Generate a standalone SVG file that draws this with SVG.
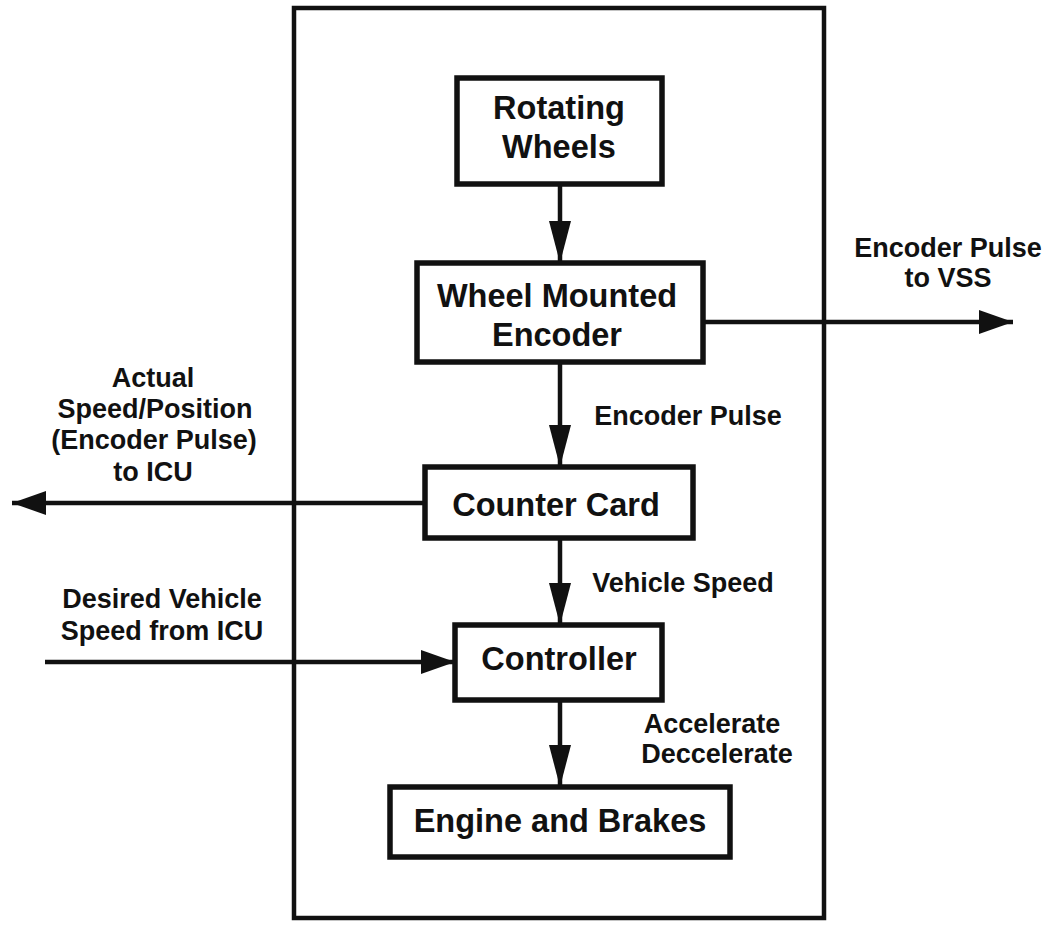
<svg xmlns="http://www.w3.org/2000/svg" width="1049" height="925" viewBox="0 0 1049 925">
  <style>
    .box { fill: #fff; stroke: #111; stroke-width: 5.5; }
    .frame { fill: none; stroke: #111; stroke-width: 4.5; }
    .wire { fill: none; stroke: #111; stroke-width: 4.5; }
    .t { font-family: "Liberation Sans", Arial, Helvetica, sans-serif; font-weight: bold; fill: #111; text-anchor: middle; }
    .tb { font-size: 32.5px; }
    .tl { font-size: 27px; }
  </style>
  <defs>
    <marker id="headV" markerUnits="userSpaceOnUse" markerWidth="42" markerHeight="24" refX="42" refY="11" orient="auto">
      <path d="M0,0 L42,11 L0,22 z" fill="#111"/>
    </marker>
    <marker id="headH" markerUnits="userSpaceOnUse" markerWidth="34" markerHeight="26" refX="34" refY="12" orient="auto">
      <path d="M0,0 L34,12 L0,24 z" fill="#111"/>
    </marker>
  </defs>

  <!-- system boundary -->
  <rect class="frame" x="294" y="8" width="530" height="910"/>

  <!-- connectors -->
  <g id="connectors">
    <line class="wire" x1="560" y1="184" x2="560" y2="263" marker-end="url(#headV)"/>
    <line class="wire" x1="703" y1="322" x2="1013" y2="322" marker-end="url(#headH)"/>
    <line class="wire" x1="560" y1="362" x2="560" y2="467" marker-end="url(#headV)"/>
    <line class="wire" x1="425" y1="503" x2="12" y2="503" marker-end="url(#headH)"/>
    <line class="wire" x1="560" y1="538" x2="560" y2="625" marker-end="url(#headV)"/>
    <line class="wire" x1="45" y1="662" x2="455" y2="662" marker-end="url(#headH)"/>
    <line class="wire" x1="560" y1="700" x2="560" y2="787" marker-end="url(#headV)"/>
  </g>

  <g id="rotating-wheels">
    <rect class="box" x="457" y="78" width="205" height="106"/>
    <text class="t tb" x="559" y="119">Rotating</text>
    <text class="t tb" x="559" y="158">Wheels</text>
  </g>

  <g id="wheel-mounted-encoder">
    <rect class="box" x="417" y="263" width="286" height="99"/>
    <text class="t tb" x="557" y="307">Wheel Mounted</text>
    <text class="t tb" x="557" y="346">Encoder</text>
  </g>

  <g id="counter-card">
    <rect class="box" x="425" y="467" width="268" height="71"/>
    <text class="t tb" x="556" y="516">Counter Card</text>
  </g>

  <g id="controller">
    <rect class="box" x="455" y="625" width="207" height="75"/>
    <text class="t tb" x="559" y="670">Controller</text>
  </g>

  <g id="engine-and-brakes">
    <rect class="box" x="390" y="787" width="340" height="70"/>
    <text class="t tb" x="560" y="832">Engine and Brakes</text>
  </g>

  <!-- signal labels -->
  <g id="labels">
    <text class="t tl" x="948" y="257">Encoder Pulse</text>
    <text class="t tl" x="948" y="287">to VSS</text>

    <text class="t tl" x="688" y="425">Encoder Pulse</text>

    <text class="t tl" x="153" y="387">Actual</text>
    <text class="t tl" x="155" y="418">Speed/Position</text>
    <text class="t tl" x="154" y="449">(Encoder Pulse)</text>
    <text class="t tl" x="153" y="481">to ICU</text>

    <text class="t tl" x="683" y="592">Vehicle Speed</text>

    <text class="t tl" x="162" y="608">Desired Vehicle</text>
    <text class="t tl" x="162" y="640">Speed from ICU</text>

    <text class="t tl" x="712" y="733">Accelerate</text>
    <text class="t tl" x="717" y="763">Deccelerate</text>
  </g>
</svg>
